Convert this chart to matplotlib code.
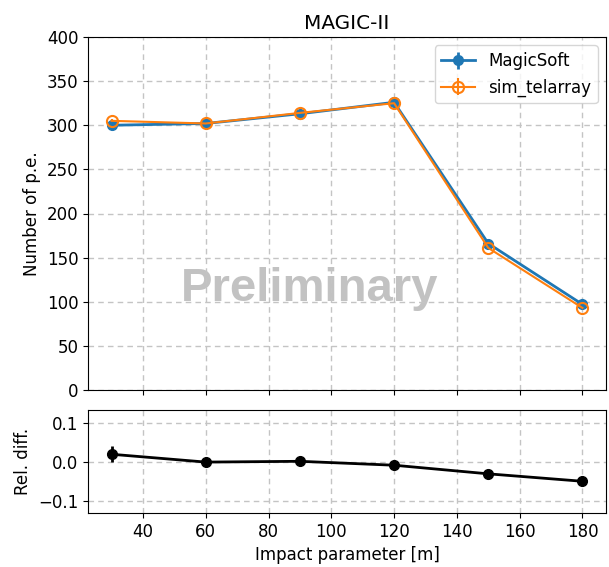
import matplotlib
matplotlib.use("Agg")
import matplotlib.pyplot as plt
import numpy as np

impact = [30, 60, 90, 120, 150, 180]
magicsoft = [300, 302, 313, 326, 166, 97]
magicsoft_err = [2, 2, 2, 2, 2, 2]
sim_telarray = [305, 302, 314, 325, 161, 93]
sim_telarray_err = [2, 2, 2, 2, 2, 2]
rel_diff = [0.02, 0.0, 0.002, -0.008, -0.03, -0.049]
rel_diff_err = [0.02, 0.006, 0.006, 0.006, 0.006, 0.006]

plt.rcParams['font.size'] = 12
fig = plt.figure(figsize=(6.09, 5.67), dpi=100)
W, H = 609, 567
ax = fig.add_axes([88 / W, 1 - 390 / H, (606 - 88) / W, (390 - 37) / H])
ax2 = fig.add_axes([88 / W, 1 - 513 / H, (606 - 88) / W, (513 - 410) / H], sharex=ax)

grid_style = dict(color='#c4c4c4', linestyle=(0, (4, 3)), linewidth=1)

ax.errorbar(impact, magicsoft, yerr=magicsoft_err, marker='o', markersize=7,
            color='tab:blue', linewidth=2, label='MagicSoft')
ax.errorbar(impact, sim_telarray, yerr=sim_telarray_err, marker='o', markersize=8,
            markerfacecolor='none', markeredgewidth=1.5, color='tab:orange',
            linewidth=1.5, label='sim_telarray')
ax.set_ylim(0, 400)
ax.set_ylabel('Number of p.e.')
ax.set_title('MAGIC-II')
ax.grid(**grid_style)
ax.legend(loc='upper right')
ax.tick_params(labelbottom=False)
ax.text(93, 114, 'Preliminary', fontsize=34, fontweight='bold', color='#c2c2c2',
        family='Liberation Sans', ha='center', va='center', zorder=1)

ax2.errorbar(impact, rel_diff, yerr=rel_diff_err, marker='o', markersize=7,
             color='black', linewidth=2)
ax2.set_ylim(-0.13, 0.133)
ax2.set_yticks([-0.1, 0.0, 0.1])
ax2.set_xlim(22.5, 187.5)
ax2.set_xticks(np.arange(40, 181, 20))
ax2.set_ylabel('Rel. diff.')
ax2.set_xlabel('Impact parameter [m]')
ax2.grid(**grid_style)

fig.savefig('out.png', dpi=100)
